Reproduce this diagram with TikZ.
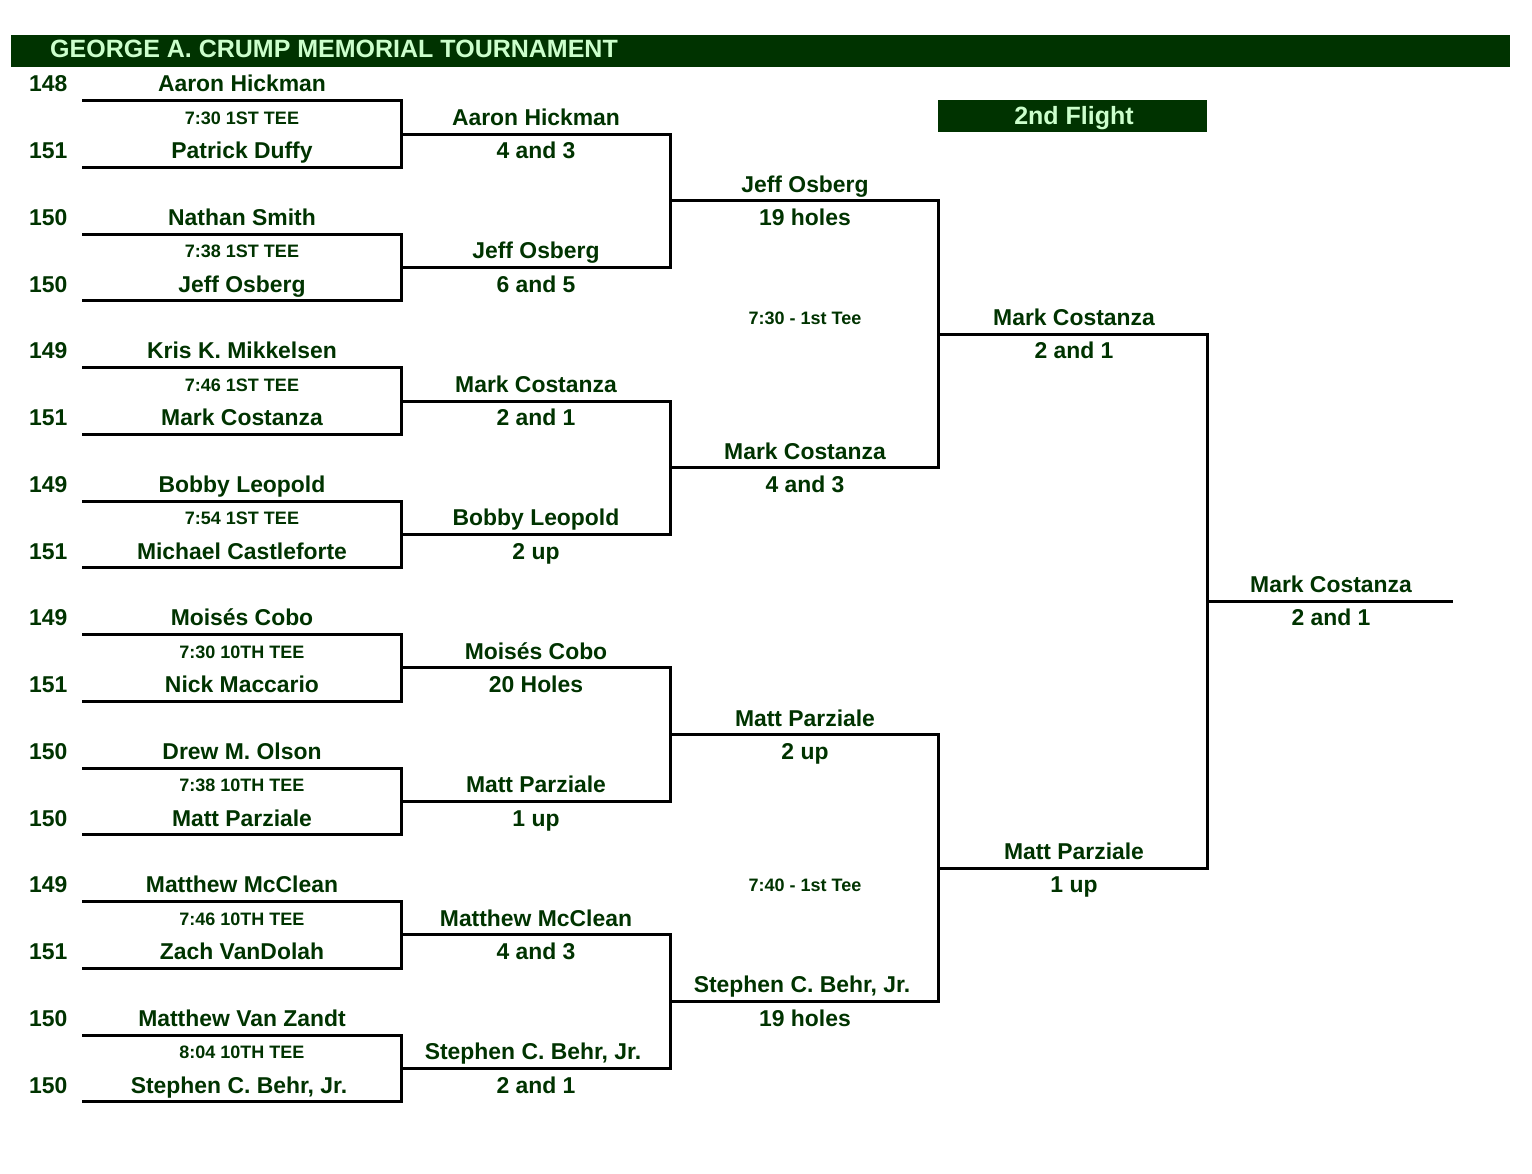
\documentclass[tikz,border=0pt]{standalone}
\usepackage{fontspec}
\setmainfont{Liberation Sans}
\usetikzlibrary{positioning}
\definecolor{crumpgreen}{RGB}{0,51,0}
\definecolor{flightgreen}{RGB}{204,255,204}

\tikzset{
    player/.style={font=\fontsize{22.9}{24}\selectfont\bfseries, text=crumpgreen,
        inner sep=0pt, anchor=base, yshift=-8pt},
    seed/.style={player, anchor=base west},
    teetime/.style={font=\fontsize{18}{20}\selectfont\bfseries, text=crumpgreen,
        inner sep=0pt, anchor=base, yshift=-7pt},
    banner/.style={font=\fontsize{25}{26}\selectfont\bfseries, text=flightgreen,
        inner sep=0pt, yshift=-8.8pt},
    bracket/.style={line width=3pt, black},
}

\begin{document}
\begin{tikzpicture}[x=1pt, y=-33.37pt]
    \useasboundingbox (0,-2.5172) rectangle (1532,32.664);

    % header bars
    \fill[crumpgreen] (11,-1.468) rectangle (1510,-0.509);
    \node[banner, anchor=base west] (title) at (50,-1.049) {GEORGE A. CRUMP MEMORIAL TOURNAMENT};
    \fill[crumpgreen] (938,0.479) rectangle (1207,1.438);
    \node[banner, anchor=base] (flight) at (1074,0.959) {2nd Flight};

    % bracket lines: round r, slot s
    \foreach \r/\xa/\xb/\n in {0/82/401/15, 1/401/670/7, 2/670/938/3, 3/938/1207/1, 4/1207/1453/0} {
        \foreach \s in {0,...,\n} {
            \pgfmathsetmacro\liney{2^(\r+1)*\s + 2^\r - 0.5}
            \coordinate (l\r-\s-a) at (\xa,\liney);
            \coordinate (l\r-\s-b) at (\xb,\liney);
        }
    }
    \foreach \r/\n in {0/7, 1/3, 2/1, 3/0} {
        \foreach \t in {0,...,\n} {
            \pgfmathtruncatemacro\upperslot{2*\t}
            \pgfmathtruncatemacro\lowerslot{2*\t+1}
            \draw[bracket] (l\r-\upperslot-a) -- (l\r-\upperslot-b) -- (l\r-\lowerslot-b) -- (l\r-\lowerslot-a);
        }
    }
    \draw[bracket] (l4-0-a) -- (l4-0-b);

    % first round
    \node[seed] (n1) at (29,0) {148};   \node[player] (p1) at (242,0) {Aaron Hickman};
    \node[teetime] (tee1) at (242,1) {7:30 1ST TEE};
    \node[seed] (n2) at (29,2) {151};   \node[player] (p2) at (242,2) {Patrick Duffy};

    \node[seed] (n3) at (29,4) {150};   \node[player] (p3) at (242,4) {Nathan Smith};
    \node[teetime] (tee2) at (242,5) {7:38 1ST TEE};
    \node[seed] (n4) at (29,6) {150};   \node[player] (p4) at (242,6) {Jeff Osberg};

    \node[seed] (n5) at (29,8) {149};   \node[player] (p5) at (242,8) {Kris K. Mikkelsen};
    \node[teetime] (tee3) at (242,9) {7:46 1ST TEE};
    \node[seed] (n6) at (29,10) {151};  \node[player] (p6) at (242,10) {Mark Costanza};

    \node[seed] (n7) at (29,12) {149};  \node[player] (p7) at (242,12) {Bobby Leopold};
    \node[teetime] (tee4) at (242,13) {7:54 1ST TEE};
    \node[seed] (n8) at (29,14) {151};  \node[player] (p8) at (242,14) {Michael Castleforte};

    \node[seed] (n9) at (29,16) {149};  \node[player] (p9) at (242,16) {Moisés Cobo};
    \node[teetime] (tee5) at (242,17) {7:30 10TH TEE};
    \node[seed] (n10) at (29,18) {151}; \node[player] (p10) at (242,18) {Nick Maccario};

    \node[seed] (n11) at (29,20) {150}; \node[player] (p11) at (242,20) {Drew M. Olson};
    \node[teetime] (tee6) at (242,21) {7:38 10TH TEE};
    \node[seed] (n12) at (29,22) {150}; \node[player] (p12) at (242,22) {Matt Parziale};

    \node[seed] (n13) at (29,24) {149}; \node[player] (p13) at (242,24) {Matthew McClean};
    \node[teetime] (tee7) at (242,25) {7:46 10TH TEE};
    \node[seed] (n14) at (29,26) {151}; \node[player] (p14) at (242,26) {Zach VanDolah};

    \node[seed] (n15) at (29,28) {150}; \node[player] (p15) at (242,28) {Matthew Van Zandt};
    \node[teetime] (tee8) at (242,29) {8:04 10TH TEE};
    \node[seed] (n16) at (29,30) {150}; \node[player] (p16) at (239,30) {Stephen C. Behr, Jr.};

    % second round
    \node[player] (qf1) at (536,1) {Aaron Hickman};        \node[player] (qfs1) at (536,2) {4 and 3};
    \node[player] (qf2) at (536,5) {Jeff Osberg};          \node[player] (qfs2) at (536,6) {6 and 5};
    \node[player] (qf3) at (536,9) {Mark Costanza};        \node[player] (qfs3) at (536,10) {2 and 1};
    \node[player] (qf4) at (536,13) {Bobby Leopold};       \node[player] (qfs4) at (536,14) {2 up};
    \node[player] (qf5) at (536,17) {Moisés Cobo};         \node[player] (qfs5) at (536,18) {20 Holes};
    \node[player] (qf6) at (536,21) {Matt Parziale};       \node[player] (qfs6) at (536,22) {1 up};
    \node[player] (qf7) at (536,25) {Matthew McClean};     \node[player] (qfs7) at (536,26) {4 and 3};
    \node[player] (qf8) at (533,29) {Stephen C. Behr, Jr.}; \node[player] (qfs8) at (536,30) {2 and 1};

    % third round
    \node[player] (sf1) at (805,3) {Jeff Osberg};          \node[player] (sfs1) at (805,4) {19 holes};
    \node[teetime] (semitee1) at (805,7) {7:30 - 1st Tee};
    \node[player] (sf2) at (805,11) {Mark Costanza};       \node[player] (sfs2) at (805,12) {4 and 3};
    \node[player] (sf3) at (805,19) {Matt Parziale};       \node[player] (sfs3) at (805,20) {2 up};
    \node[teetime] (semitee2) at (805,24) {7:40 - 1st Tee};
    \node[player] (sf4) at (802,27) {Stephen C. Behr, Jr.}; \node[player] (sfs4) at (805,28) {19 holes};

    % fourth round and final
    \node[player] (fi1) at (1074,7) {Mark Costanza};       \node[player] (fis1) at (1074,8) {2 and 1};
    \node[player] (fi2) at (1074,23) {Matt Parziale};      \node[player] (fis2) at (1074,24) {1 up};
    \node[player] (champ) at (1331,15) {Mark Costanza};    \node[player] (champscore) at (1331,16) {2 and 1};
\end{tikzpicture}
\end{document}
